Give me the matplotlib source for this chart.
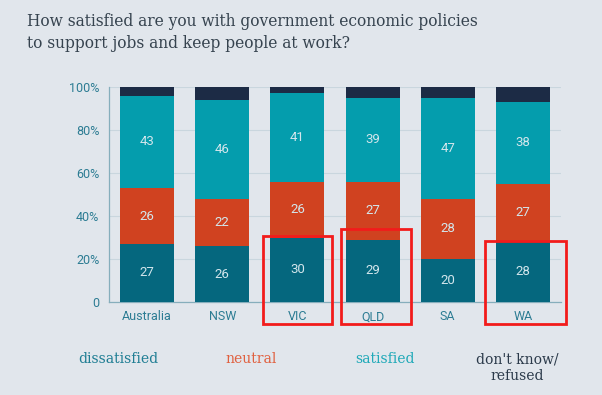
import matplotlib
matplotlib.use("Agg")
import matplotlib.pyplot as plt
from matplotlib.patches import Rectangle

categories = ["Australia", "NSW", "VIC", "QLD", "SA", "WA"]
dissatisfied = [27, 26, 30, 29, 20, 28]
neutral = [26, 22, 26, 27, 28, 27]
satisfied = [43, 46, 41, 39, 47, 38]
dont_know = [4, 6, 3, 5, 5, 7]
yticks = [0, 20, 40, 60, 80, 100]
ytick_labels = ["0", "20%", "40%", "60%", "80%", "100%"]
highlight = ["VIC", "QLD", "WA"]

bg = "#E1E6EC"
c_dis = "#05677E"
c_neu = "#D04220"
c_sat = "#049DAD"
c_dk = "#1C2B45"
tick_col = "#2C7C93"

fig = plt.figure(figsize=(6.02, 3.95), dpi=100, facecolor=bg)
ax = fig.add_axes([109/602, 1-302/395, (561-109)/602, (302-87)/395])
ax.set_facecolor(bg)

x = list(range(len(categories)))
w = 0.72
bottom = [0]*len(x)
for vals, col, lab in [(dissatisfied, c_dis, True), (neutral, c_neu, True),
                       (satisfied, c_sat, True), (dont_know, c_dk, False)]:
    ax.bar(x, vals, width=w, bottom=bottom, color=col, zorder=3, edgecolor="none")
    if lab:
        for xi, b, v in zip(x, bottom, vals):
            ax.text(xi, b + v/2, str(v), ha="center", va="center", color="#D3E6EC",
                    fontsize=9.5, family="Roboto", zorder=4)
    bottom = [b + v for b, v in zip(bottom, vals)]

ax.set_xlim(-0.507, len(x) - 1 + 0.507)
ax.set_ylim(0, 100)
ax.set_yticks(yticks)
ax.set_yticklabels(ytick_labels)
ax.set_xticks(x)
ax.set_xticklabels(categories)
ax.tick_params(axis="both", length=0, colors=tick_col, labelsize=9, pad=7)
ax.tick_params(axis="x", pad=6)
for lbl in ax.get_xticklabels() + ax.get_yticklabels():
    lbl.set_family("Roboto")
ax.grid(axis="y", color="#C9D6DE", linewidth=0.8, zorder=0)
for s in ["top", "right"]:
    ax.spines[s].set_visible(False)
for s in ["left", "bottom"]:
    ax.spines[s].set_color("#86AEBC")
    ax.spines[s].set_linewidth(0.9)

# Title
title_col = "#36434F"
fig.text(27/602, 1-22/395, "How satisfied are you with government economic policies",
         ha="left", va="center", fontsize=11.2, family="DejaVu Serif", color=title_col)
fig.text(27/602, 1-43/395, "to support jobs and keep people at work?",
         ha="left", va="center", fontsize=11.2, family="DejaVu Serif", color=title_col)

# Legend texts
leg = [("dissatisfied", 118, 359, "#1E7D93"), ("neutral", 251, 359, "#E0603F"),
       ("satisfied", 385, 359, "#1FA9B8"), ("don't know/\nrefused", 517, 368, "#2B3A4A")]
for t, lx, ly, col in leg:
    fig.text(lx/602, 1-ly/395, t, ha="center", va="center", fontsize=10,
             family="DejaVu Serif", color=col, linespacing=1.25)

# Red highlight rectangles
rects = {"VIC": (263, 236, 332, 324), "QLD": (341, 229, 411, 324), "WA": (485, 241, 566, 324)}
for name in highlight:
    x0, y0, x1, y1 = rects[name]
    fig.patches.append(Rectangle((x0/602, 1-y1/395), (x1-x0)/602, (y1-y0)/395,
                                 transform=fig.transFigure, fill=False,
                                 edgecolor="#F21B1B", linewidth=2, zorder=10))

fig.savefig("out.png", dpi=100, facecolor=bg)
